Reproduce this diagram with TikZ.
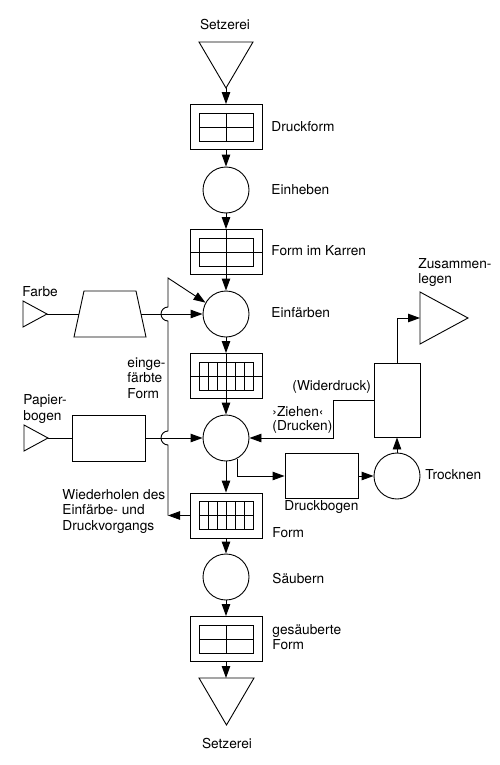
\documentclass[tikz,border=0pt]{standalone}
\usepackage{fontspec}
\setmainfont{TeX Gyre Heros}
\usetikzlibrary{arrows.meta}
\begin{document}
\begin{tikzpicture}[x=1pt,y=-1pt,
  line width=0.9pt,
  arr/.style={-{Triangle[length=12pt,width=8.5pt]}},
  outerbox/.style={draw,rectangle,minimum width=72pt,minimum height=45pt,inner sep=0pt},
  proc/.style={draw,circle,minimum size=46pt,inner sep=0pt},
  plainbox/.style={draw,rectangle,inner sep=0pt},
  lbl/.style={font=\fontsize{13.7pt}{15.5pt}\selectfont,inner sep=0pt,align=left,anchor=west},
  thin/.style={line width=0.8pt}
]
\useasboundingbox (0,0) rectangle (500,765);

% ---- main column ----
\node[lbl,anchor=center] (tsetz) at (225,25) {Setzerei};
\draw (199,42) -- (253,42) -- (226,88) -- cycle;
\coordinate (settop) at (226,88);

\node[outerbox] (druck) at (226,127) {};
\begin{scope}[shift={(226,127)},thin]
  \draw (-27,-14) rectangle (27,14);
  \draw (-27,0) -- (27,0);
  \draw (0,-14) -- (0,14);
\end{scope}
\node[lbl] (tdruck) at (271,127) {Druckform};

\node[proc] (einh) at (226,190) {};
\node[lbl] (teinh) at (271,190) {Einheben};

\node[outerbox] (karren) at (226,252) {};
\begin{scope}[shift={(226,252)},thin]
  \draw (-27,-14) rectangle (27,14);
  \draw (-36,0) -- (36,0);
  \draw (0,-22.5) -- (0,22.5);
\end{scope}
\node[lbl] (tkarren) at (271,251) {Form im Karren};

\node[proc] (einf) at (226,314) {};
\node[lbl] (teinf) at (271,313) {Einfärben};

\node[outerbox] (eform) at (226,376) {};
\begin{scope}[shift={(226,376)},thin]
  \draw (-27,-14) rectangle (27,14);
  \draw (-36,0) -- (36,0);
  \draw (0,-22.5) -- (0,22.5);
  \foreach \xx in {-18,-9,9,18} \draw (\xx,-14) -- (\xx,14);
\end{scope}
\node[lbl] (teform) at (127,378) {einge-\\färbte\\Form};

\node[proc] (zieh) at (226,438) {};
\node[lbl,font=\fontsize{13.7pt}{13.8pt}\selectfont] (tzieh) at (272,420) {›Ziehen‹\\(Drucken)};

\node[outerbox] (form) at (226,515.5) {};
\begin{scope}[shift={(226,515.5)},thin]
  \draw (-27,-14) rectangle (27,14);
  \draw (-27,0) -- (27,0);
  \foreach \xx in {-18,-9,0,9,18} \draw (\xx,-14) -- (\xx,14);
\end{scope}
\node[lbl] (tform) at (272,533) {Form};

\node[proc] (saeub) at (226,577) {};
\node[lbl] (tsaeub) at (272,578) {Säubern};

\node[outerbox] (gform) at (226,639) {};
\begin{scope}[shift={(226,639)},thin]
  \draw (-27,-14) rectangle (27,14);
  \draw (-27,0) -- (27,0);
  \draw (0,-14) -- (0,14);
\end{scope}
\node[lbl] (tgform) at (272,637) {gesäuberte\\Form};

\draw (199,678) -- (254,678) -- (226.5,725) -- cycle;
\coordinate (setbot) at (226,678);
\node[lbl,anchor=center] (tsetzb) at (227,743) {Setzerei};

% vertical flow arrows
\draw[arr] (settop) -- (druck.north);
\draw[arr] (druck.south) -- (einh.north);
\draw[arr] (einh.south) -- (karren.north);
\draw[arr] (karren.south) -- (einf.north);
\draw[arr] (einf.south) -- (eform.north);
\draw[arr] (eform.south) -- (zieh.north);
\draw[arr] (zieh.south) -- (form.north);
\draw[arr] (form.south) -- (saeub.north);
\draw[arr] (saeub.south) -- (gform.north);
\draw[arr] (gform.south) -- (setbot);

% ---- left side ----
\node[lbl] (tfarbe) at (22,292) {Farbe};
\draw (23,301) -- (47,314) -- (23,327) -- cycle;
\coordinate (farbeT) at (47,314);
\draw (74,337) -- (84,291) -- (136,291) -- (146,337) -- cycle;
\coordinate (trapL) at (79,314);
\coordinate (trapR) at (141,314);
\draw (farbeT) -- (trapL);
\draw[arr] (trapR) -- (einf.west);

\node[lbl] (tpapier) at (23,409) {Papier-\\bogen};
\draw (24,425) -- (48,438) -- (24,451) -- cycle;
\coordinate (papT) at (48,438);
\node[plainbox,minimum width=73pt,minimum height=46pt] (papbox) at (108.5,438) {};
\draw (papT) -- (papbox.west);
\draw[arr] (papbox.east) -- (zieh.west);

% return loop with hops
\coordinate (ret) at (168,515.5);
\coordinate (rettop) at (168,278);
\draw[arr] (form.west) -- (ret);
\draw[arr] (ret) -- (168,445) arc[start angle=90,end angle=270,radius=7]
  -- (168,321) arc[start angle=90,end angle=270,radius=7]
  -- (rettop) -- (einf.151);
\node[lbl] (twieder) at (62,511) {Wiederholen des\\Einfärbe- und\\Druckvorgangs};

% ---- right side ----
\node[plainbox,minimum width=73pt,minimum height=45pt] (dbogen) at (321.5,476) {};
\node[lbl] (tdbogen) at (284,507) {Druckbogen};
\node[proc] (trock) at (397,476) {};
\node[lbl] (ttrock) at (425,475) {Trocknen};
\node[plainbox,minimum width=46pt,minimum height=74pt] (wider) at (397,400) {};
\node[lbl] (twider) at (292,387) {(Widerdruck)};
\draw (420,292) -- (468,318) -- (420,344) -- cycle;
\coordinate (zusL) at (420,318);
\node[lbl] (tzus) at (418,272.5) {Zusammen-\\legen};

\draw[arr] (zieh.-61) |- (dbogen.west);
\draw[arr] (dbogen.east) -- (trock.west);
\draw[arr] (trock.north) -- (wider.south);
\draw[arr] (wider.north) |- (zusL);
\coordinate (wbend) at (333,400);
\draw[arr] (wider.west) -- (wbend) |- (zieh.east);
\end{tikzpicture}
\end{document}
